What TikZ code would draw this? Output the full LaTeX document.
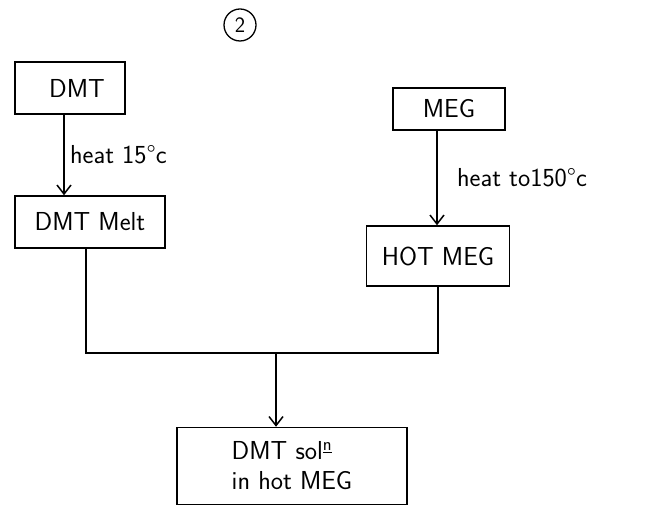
\documentclass[tikz,border=0pt]{standalone}
\usepackage{tikz}
\usetikzlibrary{arrows.meta, positioning}

\begin{document}
\begin{tikzpicture}[
    x=1pt, y=-1pt,
    box/.style={rectangle, draw=black, line width=1.5pt, inner sep=2pt, align=center, font=\sffamily\fontsize{26}{30}\selectfont},
    arrow/.style={-{Straight Barb[length=9pt, width=14pt]}, line width=1.5pt},
    line/.style={line width=1.5pt},
    label/.style={font=\sffamily\fontsize{26}{30}\selectfont},
]
\useasboundingbox (0,0) rectangle (660,510);

% Page number
\node[circle, draw, line width=1.3pt, inner sep=1pt, minimum size=32pt, font=\sffamily\fontsize{22}{24}\selectfont] (num) at (240,25) {2};

% Left branch
\node[box, minimum width=110pt, minimum height=52pt] (dmt) at (70,88) {\hspace*{14pt}DMT};
\node[box, minimum width=150pt, minimum height=52pt] (melt) at (90,222) {DMT Melt};

% Right branch
\node[box, minimum width=112pt, minimum height=42pt] (meg) at (449,109) {MEG};
\node[box, minimum width=143pt, minimum height=60pt] (hotmeg) at (438,256) {HOT MEG};

% Product
\node[box, minimum width=230pt, minimum height=77pt, align=left] (soln) at (292,466) {DMT sol\textsuperscript{\underline{n}}\\ in hot MEG};

% Junction line
\coordinate (jl) at (88,353);
\coordinate (jm) at (276,353);
\coordinate (jr) at (438,353);

% Arrows
\draw[arrow] ([xshift=-6pt]dmt.south) -- node[right, label, xshift=2pt] {heat 15\textdegree c} ([xshift=-6pt]dmt.south |- melt.north);
\draw[arrow] ([xshift=-12pt]meg.south) -- node[right, label, xshift=16pt] {heat to150\textdegree c} ([xshift=-12pt]meg.south |- hotmeg.north);
\draw[line] ([xshift=-4pt]melt.south) -- ([xshift=-4pt]melt.south |- jl) -- (hotmeg.south |- jr) -- (hotmeg.south);
\draw[arrow] (jm) -- (jm |- soln.north);

\end{tikzpicture}
\end{document}
